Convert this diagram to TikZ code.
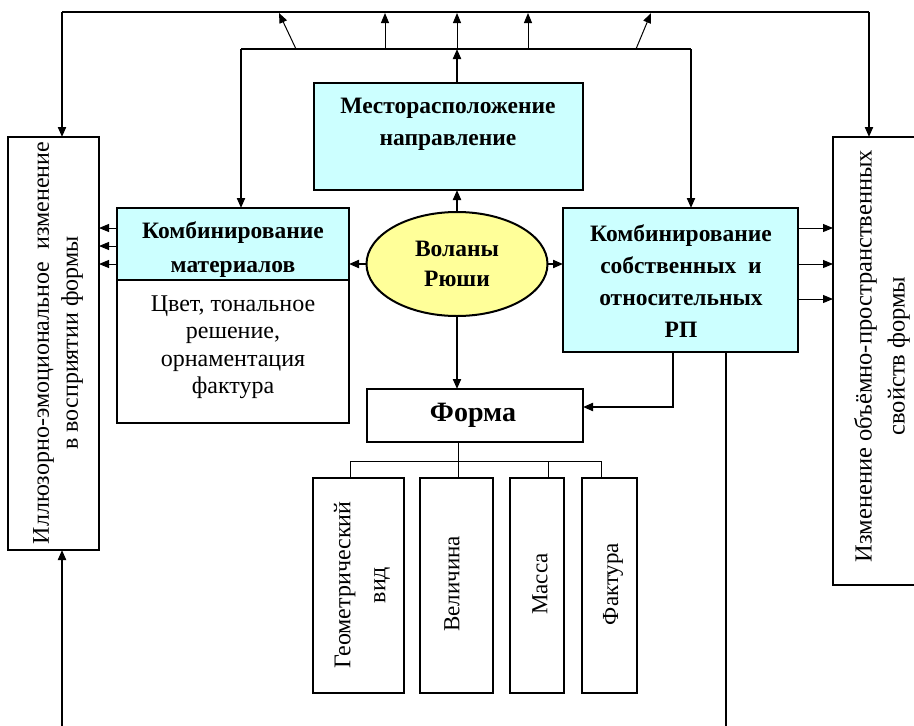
\documentclass[tikz,border=0pt]{standalone}
\usepackage{fontspec}
\setmainfont{Liberation Serif}
\usetikzlibrary{arrows.meta,shapes.geometric}
\definecolor{cyanbox}{HTML}{CCFFFF}
\definecolor{yellowell}{HTML}{FFFF99}
\begin{document}
\begin{tikzpicture}[x=1pt,y=-1pt,
  every node/.style={inner sep=0pt, outer sep=0pt},
  box/.style={draw, line width=2pt, anchor=north west},
  main/.style={line width=2pt},
  tip/.style={-{Triangle[length=10pt,width=8pt]}},
  fine/.style={line width=1pt},
  hb/.style={font=\fontsize{23.5}{32}\selectfont\bfseries, align=center},
  tx/.style={font=\fontsize{24}{27.5}\selectfont, align=center},
  rt/.style={rotate=90, align=center, font=\fontsize{23}{33}\selectfont},
]
\useasboundingbox (0,0) rectangle (914,726);

% boxes
\node[box,fill=cyanbox,minimum width=269pt,minimum height=107pt] (loc) at (314,83) {};
\node[hb] (loct) at (448,124) {Месторасположение\\направление};

\node[draw,ellipse,fill=yellowell,line width=2pt,minimum width=181pt,minimum height=104pt,hb,font=\fontsize{23.5}{30}\selectfont\bfseries] (ell) at (457,264) {Воланы\\Рюши};

\node[box,fill=cyanbox,minimum width=232pt,minimum height=72pt] (cmat) at (117,208) {};
\node[hb,font=\fontsize{23.5}{34}\selectfont\bfseries] (cmatt) at (233,250) {Комбинирование\\материалов};
\node[box,minimum width=232pt,minimum height=143pt] (cmatb) at (117,280) {};
\node[tx] (cmatbt) at (233,347) {Цвет, тональное\\решение,\\орнаментация\\фактура};

\node[box,fill=cyanbox,minimum width=235pt,minimum height=144pt] (crp) at (563,208) {};
\node[hb] (crpt) at (681,281) {Комбинирование\\собственных\ \ и\\относительных\\РП};

\node[box,minimum width=91pt,minimum height=413pt] (illu) at (8,137) {};
\node[rt,font=\fontsize{24}{29}\selectfont] (illut) at (58,343) {Иллюзорно-эмоциональное\ \ изменение\\в восприятии формы};

\node[box,minimum width=84pt,minimum height=448pt] (vol) at (833,137) {};
\node[rt,font=\fontsize{24.5}{33}\selectfont] (volt) at (882,356) {Изменение объёмно-пространственных\\свойств формы};

\node[box,minimum width=216pt,minimum height=53pt] (forma) at (367,389) {};
\node[font=\fontsize{28}{30}\selectfont\bfseries] (format) at (473,415) {Форма};

\node[box,minimum width=91pt,minimum height=215pt] (g) at (313,478) {};
\node[rt,font=\fontsize{24}{35}\selectfont] (gt) at (362,585) {Геометрический\\вид};
\node[box,minimum width=73pt,minimum height=215pt] (v) at (420,478) {};
\node[rt] (vt) at (452,584) {Величина};
\node[box,minimum width=54pt,minimum height=215pt] (m) at (510,478) {};
\node[rt] (mt) at (540,584) {Масса};
\node[box,minimum width=55pt,minimum height=215pt] (f) at (582,478) {};
\node[rt] (ft) at (613,584) {Фактура};

% coordinates
\coordinate (topL) at (62,12);
\coordinate (topR) at (869,12);
\coordinate (inL) at (241,49);
\coordinate (inR) at (691,49);
\coordinate (inM) at (457,49);
\coordinate (botL) at (62,726);
\coordinate (botR) at (726,726);
\coordinate (tr) at (458,461);

% top frame
\draw[main] (topL) -- (topR);
\draw[main,tip] (topL) -- (topL |- illu.north);
\draw[main,tip] (topR) -- (topR |- vol.north);

% inner frame
\draw[main] (inL) -- (inR);
\draw[main,tip] (inL) -- (inL |- cmat.north);
\draw[main,tip] (inR) -- (inR |- crp.north);
\draw[main,tip] (loc.north -| inM) -- (inM);

% arrows from inner line to top line
\draw[fine,tip] (296,49) -- (279,13);
\draw[fine,tip] (385,49) -- (385,13);
\draw[fine,tip] (inM) -- (457,13);
\draw[fine,tip] (528,49) -- (528,13);
\draw[fine,tip] (636,49) -- (651,13);

% ellipse connections
\draw[main,tip] (ell.north) -- (ell.north |- loc.south);
\draw[main,tip] (ell.west) -- (ell.west -| cmat.east);
\draw[main,tip] (ell.east) -- (ell.east -| crp.west);
\draw[main,tip] (ell.south) -- (ell.south |- forma.north);

% left side arrows
\foreach \yy in {228,246,264}
  \draw[fine,tip] (cmat.west |- 0,\yy) -- (illu.east |- 0,\yy);
% right side arrows
\foreach \yy in {228,264,299}
  \draw[fine,tip] (crp.east |- 0,\yy) -- (vol.west |- 0,\yy);

% from crp down
\draw[main,tip] (crp.south -| 673,0) |- (forma.east |- 0,407);
\draw[main] (crp.south -| botR) -- (botR);
\draw[main,tip] (botL) -- (illu.south -| botL);

% tree
\draw[fine] (forma.south -| tr) -- (tr);
\draw[fine] (350,461) -- (601,461);
\draw[fine] (350,461) -- (g.north -| 350,0);
\draw[fine] (tr) -- (v.north -| tr);
\draw[fine] (548,461) -- (m.north -| 548,0);
\draw[fine] (601,461) -- (f.north -| 601,0);
\end{tikzpicture}
\end{document}
